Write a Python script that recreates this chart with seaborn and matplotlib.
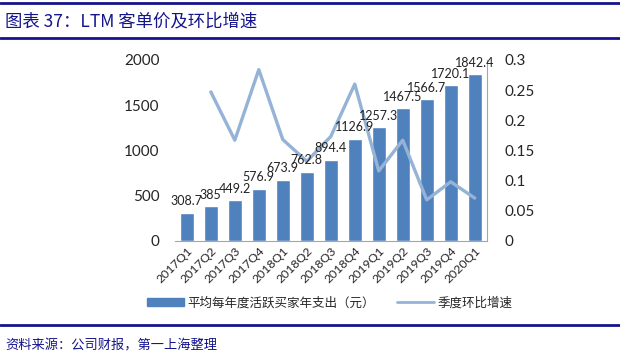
import numpy as np
import pandas as pd
import matplotlib
matplotlib.use("Agg")
import matplotlib.pyplot as plt
import seaborn as sns
from matplotlib.lines import Line2D
from matplotlib.patches import Patch
from matplotlib.transforms import offset_copy

quarters = ["2017Q1", "2017Q2", "2017Q3", "2017Q4", "2018Q1", "2018Q2", "2018Q3",
            "2018Q4", "2019Q1", "2019Q2", "2019Q3", "2019Q4", "2020Q1"]
spend = [308.7, 385, 449.2, 576.9, 673.9, 762.8, 894.4,
         1126.9, 1257.3, 1467.5, 1566.7, 1720.1, 1842.4]
spend_labels = ["308.7", "385", "449.2", "576.9", "673.9", "762.8", "894.4",
                "1126.9", "1257.3", "1467.5", "1566.7", "1720.1", "1842.4"]
# quarter-on-quarter growth, first quarter has no value
qoq = [np.nan, 0.247, 0.167, 0.284, 0.168, 0.132, 0.173,
       0.260, 0.116, 0.167, 0.068, 0.098, 0.071]

bar_name = "平均每年度活跃买家年支出（元）"
line_name = "季度环比增速"

bar_color = "#4F81BD"
line_color = "#95B3D7"
navy = "#14148C"

sns.set_style("white")
plt.rcParams["font.family"] = ["Lato", "Noto Sans CJK SC", "DejaVu Sans"]

df = pd.DataFrame({"quarter": quarters, "spend": spend, "qoq": qoq,
                   "pos": np.arange(len(quarters))})

fig = plt.figure(figsize=(6.2, 3.59), dpi=100)
ax = fig.add_axes([0.282, 0.329, 0.503, 0.504])

sns.barplot(data=df, x="quarter", y="spend", color=bar_color, width=0.58,
            saturation=1, ax=ax)
ax.set_ylim(0, 2000)
ax.set_yticks([0, 500, 1000, 1500, 2000])
ax.set_xlim(-0.5, len(quarters) - 0.5)
ax.set_xlabel("")
ax.set_ylabel("")
ax.tick_params(axis="y", labelsize=11, length=0, pad=11)
ax.tick_params(axis="x", labelsize=8.8, length=0, pad=3)
for lbl in ax.get_xticklabels():
    lbl.set_rotation(45)
    lbl.set_ha("right")
    lbl.set_rotation_mode("anchor")

for side in ["left", "top", "right"]:
    ax.spines[side].set_visible(False)
ax.spines["bottom"].set_color("#A6A6A6")

ax2 = ax.twinx()
sns.lineplot(data=df, x="pos", y="qoq", color=line_color, linewidth=2.4, ax=ax2)
ax2.set_ylim(0, 0.3)
ax2.set_yticks([0, 0.05, 0.1, 0.15, 0.2, 0.25, 0.3])
ax2.set_yticklabels(["0", "0.05", "0.1", "0.15", "0.2", "0.25", "0.3"])
ax2.set_ylabel("")
ax2.set_xlabel("")
ax2.tick_params(axis="y", labelsize=11, length=0, pad=13)
for side in ["left", "top", "bottom"]:
    ax2.spines[side].set_visible(False)
ax2.spines["right"].set_color("#A6A6A6")

# value labels above the bars, drawn over the growth line
lbl_trans = offset_copy(ax.transData, fig=fig, x=0, y=4, units="points")
for p, txt in zip(ax.patches, spend_labels):
    ax2.text(p.get_x() + p.get_width() / 2, p.get_height(), txt,
             transform=lbl_trans, ha="center", va="bottom", fontsize=9,
             color="#222222", zorder=5)

handles = [Patch(color=bar_color), Line2D([0], [0], color=line_color, lw=2)]
fig.legend(handles, [bar_name, line_name], loc="center", ncol=2,
           bbox_to_anchor=(0.532, 0.158), frameon=False, fontsize=9,
           handlelength=2.9, handleheight=0.55, columnspacing=1.8, handletextpad=0.3)

# header / footer rules and text
fig.add_artist(Line2D([0, 1], [0.993, 0.993], color=navy, lw=2))
fig.add_artist(Line2D([0, 1], [0.893, 0.893], color=navy, lw=2))
fig.add_artist(Line2D([0, 1], [0.094, 0.094], color=navy, lw=2))
fig.text(0.008, 0.94, "图表 37：LTM 客单价及环比增速", fontsize=12.5, color=navy,
         va="center", ha="left", family=["Noto Sans CJK SC"])
fig.text(0.008, 0.035, "资料来源：公司财报，第一上海整理", fontsize=9.5, color=navy,
         va="center", ha="left", family=["Noto Sans CJK SC"])

fig.savefig("out.png", dpi=100)
